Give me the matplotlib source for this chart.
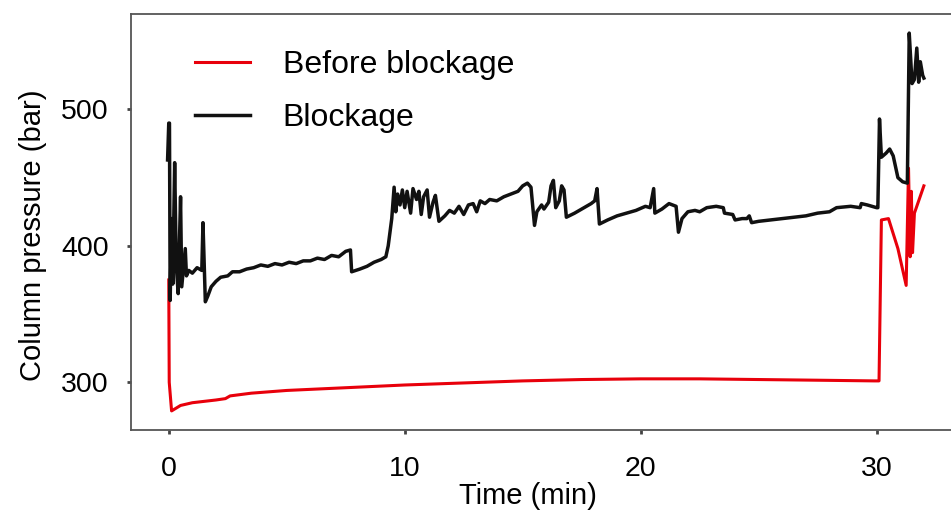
import matplotlib.pyplot as plt

plt.rcParams['font.family'] = ['Liberation Sans', 'DejaVu Sans']

# Before blockage (red)
t_before = [0, 0.02, 0.12, 0.5, 1.0, 2.0, 2.4, 2.6, 3.5, 5, 7.5, 10, 12.5, 15,
            17.5, 20, 22.5, 25, 27.5, 29.9, 30.1, 30.2, 30.5, 30.9, 31.25, 31.35,
            31.42, 31.47, 31.52, 31.6, 32.0]
p_before = [375, 300, 279, 283, 285, 287, 288, 290, 292, 294, 296, 298, 299.5, 301,
            302, 302.5, 302.5, 302, 301.5, 301, 301, 419, 420, 398, 371, 457,
            392, 440, 395, 424, 444]

# Blockage (black)
t_block = [-0.05, 0.0, 0.03, 0.06, 0.12, 0.17, 0.25, 0.32, 0.4, 0.5, 0.55, 0.7,
           0.75, 0.85, 1.0, 1.2, 1.4, 1.45, 1.55, 1.65, 1.8, 2.0, 2.2, 2.5, 2.7,
           3.0, 3.3, 3.6, 3.9, 4.2, 4.5, 4.8, 5.1, 5.4, 5.7, 6.0, 6.3, 6.6, 6.9,
           7.2, 7.5, 7.7, 7.75, 8.1, 8.4, 8.7, 9.0, 9.2, 9.3, 9.45, 9.55, 9.62,
           9.7, 9.8, 9.9, 10.0, 10.1, 10.25, 10.35, 10.5, 10.6, 10.7, 10.8, 10.95,
           11.05, 11.2, 11.3, 11.45, 11.7, 11.9, 12.1, 12.3, 12.5, 12.7, 12.9,
           13.05, 13.2, 13.4, 13.6, 13.9, 14.2, 14.5, 14.8, 15.0, 15.2, 15.35,
           15.5, 15.6, 15.8, 15.9, 16.1, 16.2, 16.3, 16.4, 16.55, 16.65, 16.75,
           16.85, 17.2, 17.6, 17.9, 18.05, 18.15, 18.25, 18.6, 19.0, 19.4, 19.8,
           20.2, 20.4, 20.55, 20.6, 20.9, 21.2, 21.5, 21.6, 21.75, 22.0, 22.3,
           22.5, 22.8, 23.2, 23.5, 23.55, 23.9, 24.0, 24.3, 24.5, 24.6, 24.7,
           25.0, 25.5, 26.0, 26.5, 27.0, 27.5, 28.0, 28.3, 28.9, 29.3, 29.35,
           29.6, 30.0, 30.05, 30.12, 30.2, 30.4, 30.55, 30.7, 30.9, 31.1, 31.3,
           31.38, 31.5, 31.6, 31.7, 31.78, 31.85, 31.95, 32.0]
p_block = [463, 490, 490, 360, 420, 372, 461, 385, 365, 436, 370, 398,
           378, 382, 380, 384, 382, 417, 359, 363, 370, 374, 377, 378, 381,
           381, 383, 384, 386, 385, 387, 386, 388, 387, 389, 389, 391, 390, 393,
           392, 396, 397, 381, 383, 385, 388, 390, 392, 400, 420, 443, 425,
           438, 430, 441, 428, 440, 424, 442, 434, 440, 423, 436, 441,
           421, 432, 437, 418, 422, 426, 424, 429, 423, 430, 431,
           425, 433, 431, 434, 433, 436, 438, 440, 444, 446, 443,
           415, 425, 430, 427, 432, 444, 448, 428, 433, 444, 441,
           421, 424, 428, 431, 433, 442, 416, 419, 422, 424, 426,
           429, 428, 442, 424, 427, 431, 429, 410, 420, 425, 426,
           425, 428, 429, 428, 424, 423, 419, 420, 420, 422, 417,
           418, 419, 420, 421, 422, 424, 425, 428, 429, 428, 431,
           430, 428, 428, 493, 465, 468, 471, 466, 450, 447, 446,
           556, 519, 522, 545, 520, 535, 525, 523]

x_ticks = [0, 10, 20, 30]
y_ticks = [300, 400, 500]

fig = plt.figure(figsize=(9.51, 5.16), dpi=100)
ax = fig.add_axes([131 / 951, 1 - 430 / 516, 820 / 951, 416 / 516])

ax.plot(t_before, p_before, color='#e8000b', lw=2.2, label='Before blockage', zorder=2)
ax.plot(t_block, p_block, color='#111111', lw=2.5, label='Blockage', zorder=3)

ax.set_xlim(-1.6, 33.15)
ax.set_ylim(265, 570)
ax.set_xticks(x_ticks)
ax.set_yticks(y_ticks)
ax.spines['right'].set_visible(False)
for s in ['left', 'top', 'bottom']:
    ax.spines[s].set_color('#555555')
    ax.spines[s].set_linewidth(1.3)
ax.tick_params(direction='out', length=3, width=2, color='#444444', labelsize=20.5)
ax.tick_params(axis='x', pad=16)
ax.tick_params(axis='y', pad=13)

ax.set_xlabel('Time (min)', fontsize=21, labelpad=0)
ax.set_ylabel('Column pressure (bar)', fontsize=21, labelpad=10)
ax.xaxis.label.set_x(0.484)
ax.yaxis.label.set_y(0.469)

ax.legend(loc='upper left', bbox_to_anchor=(0.078, 0.913), frameon=False,
          fontsize=23, handlelength=1.72, handletextpad=1.03, labelspacing=0.72,
          borderpad=0, borderaxespad=0)

fig.savefig('out.png', dpi=100)
